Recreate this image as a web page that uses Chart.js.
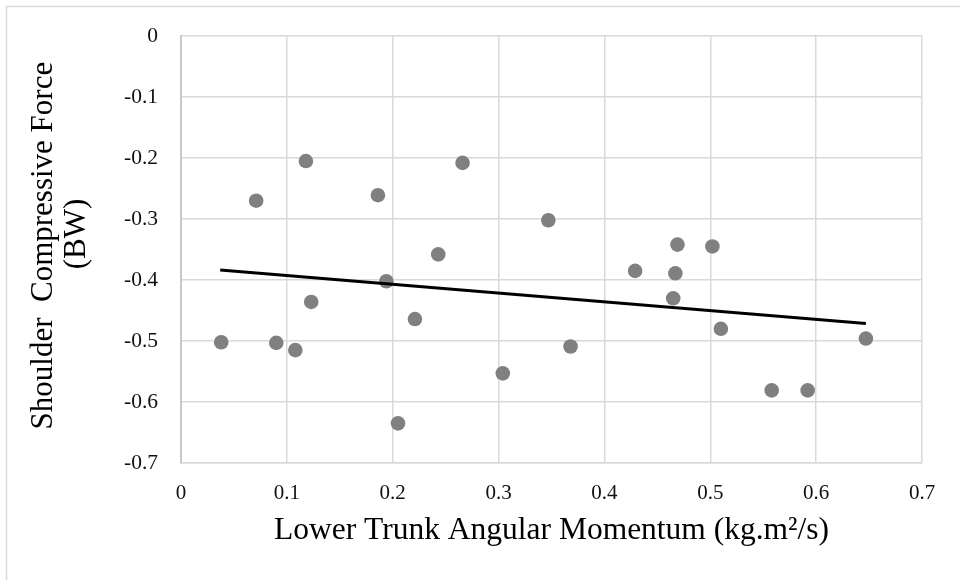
<!DOCTYPE html>
<html>
<head>
<meta charset="utf-8">
<style>
  html, body { margin: 0; padding: 0; background: #fff; }
  canvas { display: block; }
</style>
<script src="https://cdn.jsdelivr.net/npm/chart.js@4/dist/chart.umd.min.js"></script>
</head>
<body>
<canvas id="chart" width="960" height="580"></canvas>
<script>
  // values
  const lowerTrunk = [0.038, 0.071, 0.090, 0.108, 0.118, 0.123, 0.186, 0.194, 0.205, 0.221, 0.243, 0.266,
    0.304, 0.347, 0.368, 0.429, 0.465, 0.467, 0.469, 0.502, 0.510, 0.558, 0.592, 0.647];
  const shoulderForce = [-0.502, -0.270, -0.503, -0.515, -0.205, -0.436, -0.261, -0.402, -0.635, -0.464, -0.358, -0.208,
    -0.553, -0.302, -0.509, -0.385, -0.430, -0.389, -0.342, -0.345, -0.480, -0.581, -0.581, -0.496];
  const trendX = [0.037, 0.647];
  const trendY = [-0.3836, -0.4715];

  const X_TITLE = "Lower Trunk Angular Momentum (kg.m²/s)";
  const Y_TITLE = [" Shoulder  Compressive Force", "    (BW)"];

  const SERIF = "'Liberation Serif', 'Times New Roman', serif";
  const GRID = "#d9d9d9";

  // white page with the light frame of the chart object
  const frame = {
    id: "frame",
    beforeDraw(chart) {
      const ctx = chart.ctx;
      ctx.save();
      ctx.fillStyle = "#fff";
      ctx.fillRect(0, 0, chart.width, chart.height);
      ctx.strokeStyle = GRID;
      ctx.lineWidth = 1.5;
      ctx.beginPath();
      ctx.moveTo(6.5, chart.height + 2);
      ctx.lineTo(6.5, 6.5);
      ctx.lineTo(chart.width + 2, 6.5);
      ctx.stroke();
      ctx.restore();
    },
  };

  const points = lowerTrunk.map((x, i) => ({ x: x, y: shoulderForce[i] }));
  const trend = trendX.map((x, i) => ({ x: x, y: trendY[i] }));

  new Chart(document.getElementById("chart"), {
    type: "scatter",
    data: {
      datasets: [
        {
          label: "Shoulder",
          data: points,
          pointRadius: 7.3,
          pointHoverRadius: 7.3,
          backgroundColor: "#808080",
          borderColor: "#808080",
          borderWidth: 0,
          order: 2,
        },
        {
          type: "line",
          label: "Trend",
          data: trend,
          borderColor: "#000",
          borderWidth: 3,
          pointRadius: 0,
          fill: false,
          order: 1,
        },
      ],
    },
    options: {
      responsive: false,
      animation: false,
      events: [],
      layout: { padding: { left: 0, top: 36, right: 38, bottom: 0 } },
      plugins: {
        legend: { display: false },
        tooltip: { enabled: false },
      },
      scales: {
        x: {
          type: "linear",
          min: 0,
          max: 0.7,
          afterFit(scale) { scale.height = 117; },
          ticks: {
            stepSize: 0.1,
            padding: 18,
            color: "#111",
            font: { family: SERIF, size: 21 },
          },
          grid: { color: GRID, lineWidth: 1.5, drawTicks: false },
          border: { color: GRID, width: 1.5 },
          title: {
            display: true,
            text: X_TITLE,
            color: "#000",
            font: { family: SERIF, size: 31.5 },
            padding: { top: 0, bottom: 30 },
          },
        },
        y: {
          type: "linear",
          min: -0.7,
          max: 0,
          afterFit(scale) { scale.width = 181; },
          ticks: {
            stepSize: 0.1,
            padding: 23,
            color: "#111",
            font: { family: SERIF, size: 21.5 },
          },
          grid: { color: GRID, lineWidth: 1.5, drawTicks: false },
          border: { color: "#c8c8c8", width: 2 },
          title: {
            display: true,
            text: Y_TITLE,
            color: "#000",
            font: { family: SERIF, size: 31, lineHeight: 1.07 },
            padding: { top: 27, bottom: 0 },
          },
        },
      },
    },
    plugins: [frame],
  });
</script>
</body>
</html>
